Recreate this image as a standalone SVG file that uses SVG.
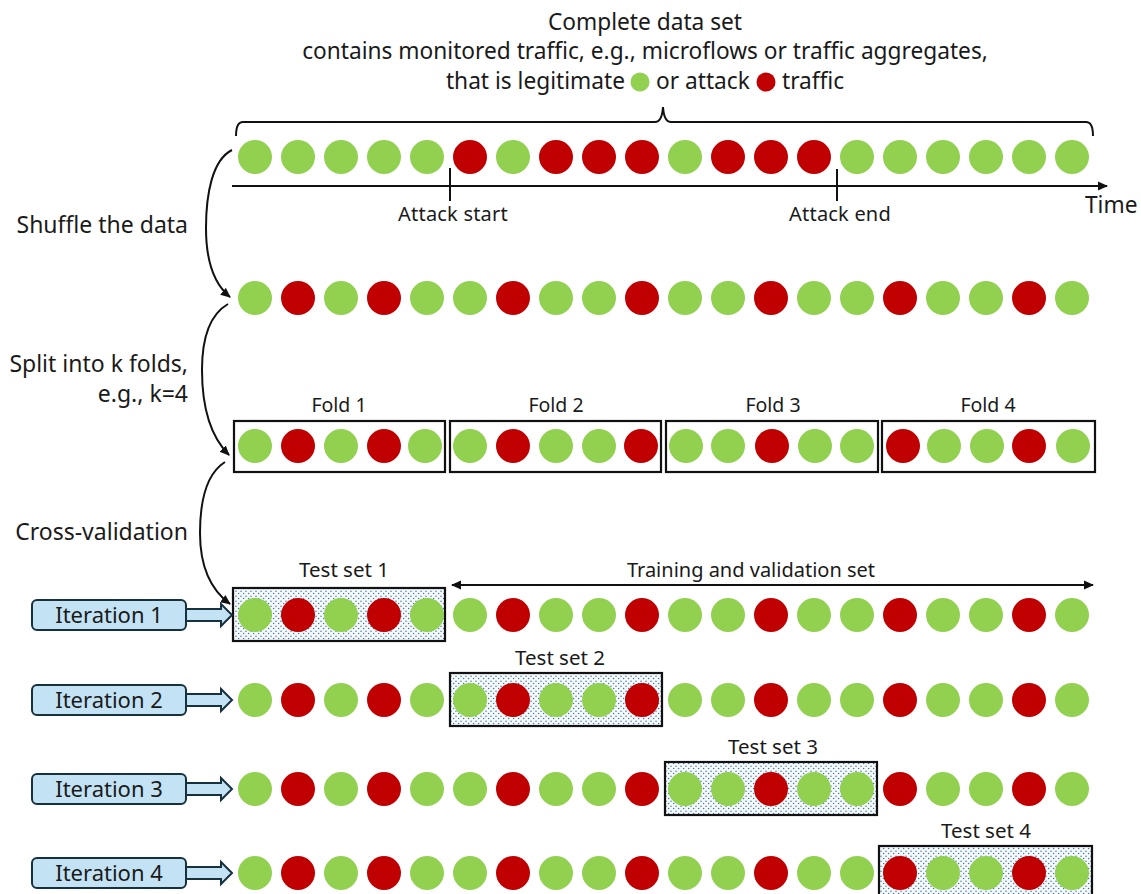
<svg xmlns="http://www.w3.org/2000/svg" width="1141" height="894" viewBox="0 0 1141 894">
  <style>
    text { font-family: "Noto Sans", "Liberation Sans", Arial, sans-serif; fill: #1a1a1a; }
    .title { font-size: 22.7px; }
    .side { font-size: 23px; text-anchor: end; }
    .small { font-size: 20px; text-anchor: middle; letter-spacing: 0.2px; }
    .lbl { font-size: 19.5px; text-anchor: middle; }
    .tl { font-size: 20.5px; text-anchor: middle; }
    .it { font-size: 22px; text-anchor: middle; }
    .g { fill: #92d050; }
    .r { fill: #c00000; }
    .box { fill: none; stroke: #111; stroke-width: 2.2; }
    .test { fill: url(#dots); stroke: #111; stroke-width: 2.2; }
    .iter { fill: #c3e3f4; stroke: #17323f; stroke-width: 2; }
    .line { fill: none; stroke: #111; stroke-width: 2; }
  </style>
  <defs>
    <pattern id="dots" width="5" height="5" patternUnits="userSpaceOnUse">
      <rect width="5" height="5" fill="#f7fafc"/>
      <circle cx="1" cy="1.2" r="0.75" fill="#3f78a6"/>
      <circle cx="3.6" cy="3.4" r="0.75" fill="#3f78a6"/>
    </pattern>
    <marker id="head" viewBox="0 0 10 10" refX="9" refY="5" markerWidth="10" markerHeight="10" markerUnits="userSpaceOnUse" orient="auto-start-reverse">
      <path d="M0,0.5 L10,5 L0,9.5 Z" fill="#111"/>
    </marker>
  </defs>

  <!-- heading -->
  <g id="heading">
    <text class="title" x="645" y="30" text-anchor="middle">Complete data set</text>
    <text class="title" x="645" y="59" text-anchor="middle">contains monitored traffic, e.g., microflows or traffic aggregates,</text>
    <text class="title" x="625" y="89" text-anchor="end">that is legitimate</text>
    <circle class="g" cx="640" cy="82" r="9.5"/>
    <text class="title" x="656" y="89">or attack</text>
    <circle class="r" cx="766" cy="82" r="9.5"/>
    <text class="title" x="782" y="89">traffic</text>
  </g>

  <!-- brace over the full data set -->
  <path id="brace" class="line" stroke-width="1.6" d="M236,136 Q236,122 243,122 L655,122 Q662,122 663,107 Q664,122 671,122 L1086,122 Q1093,122 1093,136"/>

  <!-- row 1: chronological data -->
  <g id="row-original">
    <circle class="g" cx="255" cy="157" r="17"/>
    <circle class="g" cx="298" cy="157" r="17"/>
    <circle class="g" cx="341" cy="157" r="17"/>
    <circle class="g" cx="384" cy="157" r="17"/>
    <circle class="g" cx="427" cy="157" r="17"/>
    <circle class="r" cx="470" cy="157" r="17"/>
    <circle class="g" cx="513" cy="157" r="17"/>
    <circle class="r" cx="556" cy="157" r="17"/>
    <circle class="r" cx="599" cy="157" r="17"/>
    <circle class="r" cx="642" cy="157" r="17"/>
    <circle class="g" cx="685" cy="157" r="17"/>
    <circle class="r" cx="728" cy="157" r="17"/>
    <circle class="r" cx="771" cy="157" r="17"/>
    <circle class="r" cx="814" cy="157" r="17"/>
    <circle class="g" cx="857" cy="157" r="17"/>
    <circle class="g" cx="900" cy="157" r="17"/>
    <circle class="g" cx="943" cy="157" r="17"/>
    <circle class="g" cx="986" cy="157" r="17"/>
    <circle class="g" cx="1029" cy="157" r="17"/>
    <circle class="g" cx="1072" cy="157" r="17"/>
  </g>

  <!-- time axis -->
  <g id="time-axis">
    <line class="line" x1="232" y1="186" x2="1107" y2="186" marker-end="url(#head)"/>
    <line class="line" x1="450" y1="168" x2="450" y2="201"/>
    <line class="line" x1="837" y1="169" x2="837" y2="201"/>
    <text class="small" x="453" y="221">Attack start</text>
    <text class="small" x="840" y="221">Attack end</text>
    <text class="title" x="1085" y="213">Time</text>
  </g>

  <!-- step labels -->
  <g id="step-labels">
    <text class="side" x="188" y="233">Shuffle the data</text>
    <text class="side" x="188" y="372">Split into k folds,</text>
    <text class="side" x="188" y="402">e.g., k=4</text>
    <text class="side" x="188" y="540">Cross-validation</text>
  </g>

  <!-- row 2: shuffled data -->
  <g id="row-shuffled">
    <circle class="g" cx="255" cy="298" r="17"/>
    <circle class="r" cx="298" cy="298" r="17"/>
    <circle class="g" cx="341" cy="298" r="17"/>
    <circle class="r" cx="384" cy="298" r="17"/>
    <circle class="g" cx="427" cy="298" r="17"/>
    <circle class="g" cx="470" cy="298" r="17"/>
    <circle class="r" cx="513" cy="298" r="17"/>
    <circle class="g" cx="556" cy="298" r="17"/>
    <circle class="g" cx="599" cy="298" r="17"/>
    <circle class="r" cx="642" cy="298" r="17"/>
    <circle class="g" cx="685" cy="298" r="17"/>
    <circle class="g" cx="728" cy="298" r="17"/>
    <circle class="r" cx="771" cy="298" r="17"/>
    <circle class="g" cx="814" cy="298" r="17"/>
    <circle class="g" cx="857" cy="298" r="17"/>
    <circle class="r" cx="900" cy="298" r="17"/>
    <circle class="g" cx="943" cy="298" r="17"/>
    <circle class="g" cx="986" cy="298" r="17"/>
    <circle class="r" cx="1029" cy="298" r="17"/>
    <circle class="g" cx="1072" cy="298" r="17"/>
  </g>

  <!-- row 3: folds -->
  <g id="fold-1">
    <text class="lbl" x="339" y="412">Fold 1</text>
    <rect class="box" x="234" y="421" width="211" height="51"/>
    <circle class="g" cx="255" cy="446" r="17"/>
    <circle class="r" cx="298" cy="446" r="17"/>
    <circle class="g" cx="341" cy="446" r="17"/>
    <circle class="r" cx="384" cy="446" r="17"/>
    <circle class="g" cx="425" cy="446" r="17"/>
  </g>
  <g id="fold-2">
    <text class="lbl" x="556" y="412">Fold 2</text>
    <rect class="box" x="450" y="421" width="211" height="51"/>
    <circle class="g" cx="470" cy="446" r="17"/>
    <circle class="r" cx="513" cy="446" r="17"/>
    <circle class="g" cx="556" cy="446" r="17"/>
    <circle class="g" cx="599" cy="446" r="17"/>
    <circle class="r" cx="641" cy="446" r="17"/>
  </g>
  <g id="fold-3">
    <text class="lbl" x="773" y="412">Fold 3</text>
    <rect class="box" x="666" y="421" width="212" height="51"/>
    <circle class="g" cx="686" cy="446" r="17"/>
    <circle class="g" cx="728" cy="446" r="17"/>
    <circle class="r" cx="772" cy="446" r="17"/>
    <circle class="g" cx="815" cy="446" r="17"/>
    <circle class="g" cx="857" cy="446" r="17"/>
  </g>
  <g id="fold-4">
    <text class="lbl" x="988" y="412">Fold 4</text>
    <rect class="box" x="882" y="421" width="213" height="51"/>
    <circle class="r" cx="903" cy="446" r="17"/>
    <circle class="g" cx="944" cy="446" r="17"/>
    <circle class="g" cx="987" cy="446" r="17"/>
    <circle class="r" cx="1029" cy="446" r="17"/>
    <circle class="g" cx="1073" cy="446" r="17"/>
  </g>

  <!-- test set boxes and training span -->
  <g id="test-set-1">
    <text class="tl" x="344" y="577">Test set 1</text>
    <rect class="test" x="233" y="588" width="212" height="53"/>
  </g>
  <g id="training-span">
    <text class="lbl" x="751" y="577" style="font-size:20px">Training and validation set</text>
  </g>
  <g id="test-set-2">
    <text class="tl" x="560" y="665">Test set 2</text>
    <rect class="test" x="450" y="673" width="212" height="53"/>
  </g>
  <g id="test-set-3">
    <text class="tl" x="773" y="754">Test set 3</text>
    <rect class="test" x="665" y="762" width="212" height="53"/>
  </g>
  <g id="test-set-4">
    <text class="tl" x="986" y="838">Test set 4</text>
    <rect class="test" x="879" y="846" width="213" height="56"/>
  </g>

  <!-- iteration rows -->
  <g id="iteration-1">
    <rect class="iter" x="32" y="600" width="154" height="30" rx="5"/>
    <text class="it" x="109" y="623">Iteration 1</text>
    <path class="iter" d="M186,609 L221,609 L221,604 L232,615 L221,626 L221,621 L186,621 Z"/>
    <circle class="g" cx="255" cy="615" r="17"/>
    <circle class="r" cx="298" cy="615" r="17"/>
    <circle class="g" cx="341" cy="615" r="17"/>
    <circle class="r" cx="384" cy="615" r="17"/>
    <circle class="g" cx="427" cy="615" r="17"/>
    <circle class="g" cx="470" cy="615" r="17"/>
    <circle class="r" cx="513" cy="615" r="17"/>
    <circle class="g" cx="556" cy="615" r="17"/>
    <circle class="g" cx="599" cy="615" r="17"/>
    <circle class="r" cx="642" cy="615" r="17"/>
    <circle class="g" cx="685" cy="615" r="17"/>
    <circle class="g" cx="728" cy="615" r="17"/>
    <circle class="r" cx="771" cy="615" r="17"/>
    <circle class="g" cx="814" cy="615" r="17"/>
    <circle class="g" cx="857" cy="615" r="17"/>
    <circle class="r" cx="900" cy="615" r="17"/>
    <circle class="g" cx="943" cy="615" r="17"/>
    <circle class="g" cx="986" cy="615" r="17"/>
    <circle class="r" cx="1029" cy="615" r="17"/>
    <circle class="g" cx="1072" cy="615" r="17"/>
  </g>
  <g id="iteration-2">
    <rect class="iter" x="32" y="685" width="154" height="30" rx="5"/>
    <text class="it" x="109" y="708">Iteration 2</text>
    <path class="iter" d="M186,694 L221,694 L221,689 L232,700 L221,711 L221,706 L186,706 Z"/>
    <circle class="g" cx="255" cy="700" r="17"/>
    <circle class="r" cx="298" cy="700" r="17"/>
    <circle class="g" cx="341" cy="700" r="17"/>
    <circle class="r" cx="384" cy="700" r="17"/>
    <circle class="g" cx="427" cy="700" r="17"/>
    <circle class="g" cx="470" cy="700" r="17"/>
    <circle class="r" cx="513" cy="700" r="17"/>
    <circle class="g" cx="556" cy="700" r="17"/>
    <circle class="g" cx="599" cy="700" r="17"/>
    <circle class="r" cx="642" cy="700" r="17"/>
    <circle class="g" cx="685" cy="700" r="17"/>
    <circle class="g" cx="728" cy="700" r="17"/>
    <circle class="r" cx="771" cy="700" r="17"/>
    <circle class="g" cx="814" cy="700" r="17"/>
    <circle class="g" cx="857" cy="700" r="17"/>
    <circle class="r" cx="900" cy="700" r="17"/>
    <circle class="g" cx="943" cy="700" r="17"/>
    <circle class="g" cx="986" cy="700" r="17"/>
    <circle class="r" cx="1029" cy="700" r="17"/>
    <circle class="g" cx="1072" cy="700" r="17"/>
  </g>
  <g id="iteration-3">
    <rect class="iter" x="32" y="774" width="154" height="30" rx="5"/>
    <text class="it" x="109" y="797">Iteration 3</text>
    <path class="iter" d="M186,783 L221,783 L221,778 L232,789 L221,800 L221,795 L186,795 Z"/>
    <circle class="g" cx="255" cy="789" r="17"/>
    <circle class="r" cx="298" cy="789" r="17"/>
    <circle class="g" cx="341" cy="789" r="17"/>
    <circle class="r" cx="384" cy="789" r="17"/>
    <circle class="g" cx="427" cy="789" r="17"/>
    <circle class="g" cx="470" cy="789" r="17"/>
    <circle class="r" cx="513" cy="789" r="17"/>
    <circle class="g" cx="556" cy="789" r="17"/>
    <circle class="g" cx="599" cy="789" r="17"/>
    <circle class="r" cx="642" cy="789" r="17"/>
    <circle class="g" cx="685" cy="789" r="17"/>
    <circle class="g" cx="728" cy="789" r="17"/>
    <circle class="r" cx="771" cy="789" r="17"/>
    <circle class="g" cx="814" cy="789" r="17"/>
    <circle class="g" cx="857" cy="789" r="17"/>
    <circle class="r" cx="900" cy="789" r="17"/>
    <circle class="g" cx="943" cy="789" r="17"/>
    <circle class="g" cx="986" cy="789" r="17"/>
    <circle class="r" cx="1029" cy="789" r="17"/>
    <circle class="g" cx="1072" cy="789" r="17"/>
  </g>
  <g id="iteration-4">
    <rect class="iter" x="32" y="858" width="154" height="30" rx="5"/>
    <text class="it" x="109" y="881">Iteration 4</text>
    <path class="iter" d="M186,867 L221,867 L221,862 L232,873 L221,884 L221,879 L186,879 Z"/>
    <circle class="g" cx="255" cy="873" r="17"/>
    <circle class="r" cx="298" cy="873" r="17"/>
    <circle class="g" cx="341" cy="873" r="17"/>
    <circle class="r" cx="384" cy="873" r="17"/>
    <circle class="g" cx="427" cy="873" r="17"/>
    <circle class="g" cx="470" cy="873" r="17"/>
    <circle class="r" cx="513" cy="873" r="17"/>
    <circle class="g" cx="556" cy="873" r="17"/>
    <circle class="g" cx="599" cy="873" r="17"/>
    <circle class="r" cx="642" cy="873" r="17"/>
    <circle class="g" cx="685" cy="873" r="17"/>
    <circle class="g" cx="728" cy="873" r="17"/>
    <circle class="r" cx="771" cy="873" r="17"/>
    <circle class="g" cx="814" cy="873" r="17"/>
    <circle class="g" cx="857" cy="873" r="17"/>
    <circle class="r" cx="900" cy="873" r="17"/>
    <circle class="g" cx="943" cy="873" r="17"/>
    <circle class="g" cx="986" cy="873" r="17"/>
    <circle class="r" cx="1029" cy="873" r="17"/>
    <circle class="g" cx="1072" cy="873" r="17"/>
  </g>

  <!-- connectors -->
  <g id="connectors">
    <path class="line" d="M232,150 C212,160 206,195 206,228 C206,262 214,284 230,297" marker-end="url(#head)"/>
    <path class="line" d="M228,304 C209,315 202,340 202,370 C202,410 212,438 229,455" marker-end="url(#head)"/>
    <path class="line" d="M225,462 C206,474 200,503 200,533 C200,568 211,590 230,604" marker-end="url(#head)"/>
    <line class="line" x1="452" y1="585" x2="1093" y2="585" marker-start="url(#head)" marker-end="url(#head)"/>
  </g>
</svg>
